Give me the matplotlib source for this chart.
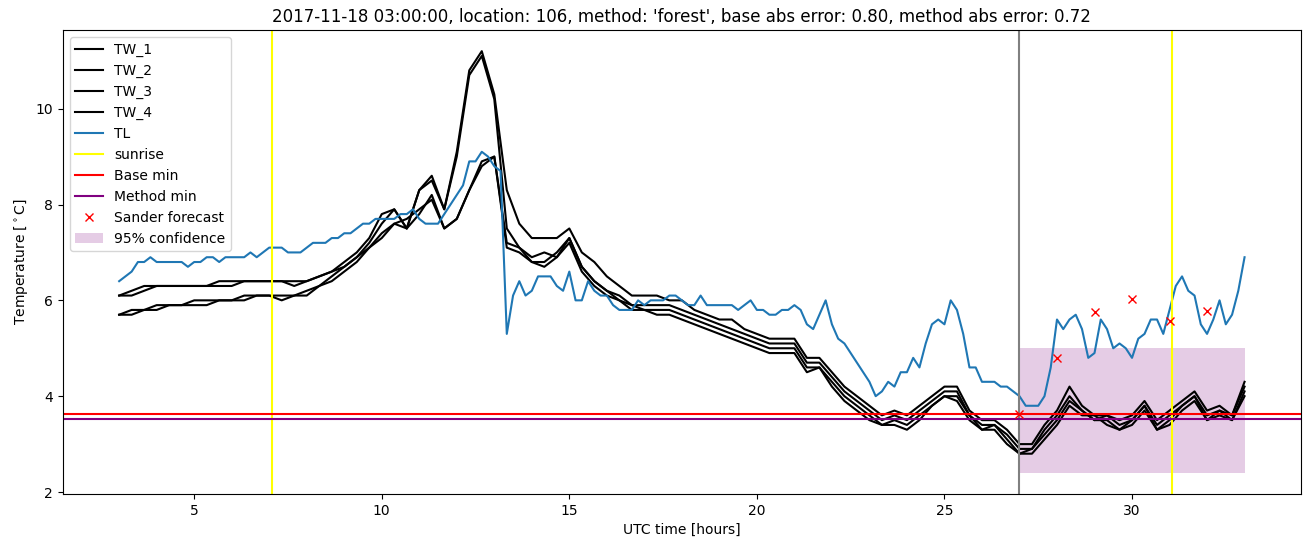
import numpy as np
import matplotlib
matplotlib.use("Agg")
import matplotlib.pyplot as plt

# time axes (UTC hours after 2017-11-18 00:00)
t_tl = np.arange(0, 181) / 6.0 + 3.0   # 10 min
t_tw = np.arange(0, 91) / 3.0 + 3.0    # 20 min

tl = [6.4, 6.5, 6.6, 6.8, 6.8, 6.9, 6.8, 6.8, 6.8, 6.8, 6.8, 6.7, 6.8, 6.8, 6.9, 6.9, 6.8, 6.9, 6.9, 6.9,
      6.9, 7.0, 6.9, 7.0, 7.1, 7.1, 7.1, 7.0, 7.0, 7.0, 7.1, 7.2, 7.2, 7.2, 7.3, 7.3, 7.4, 7.4, 7.5, 7.6,
      7.6, 7.7, 7.7, 7.7, 7.7, 7.8, 7.8, 7.9, 7.7, 7.6, 7.6, 7.6, 7.8, 8.0, 8.2, 8.4, 8.9, 8.9, 9.1, 9.0,
      8.8, 8.7, 5.3, 6.1, 6.4, 6.1, 6.2, 6.5, 6.5, 6.5, 6.3, 6.2, 6.6, 6.0, 6.0, 6.4, 6.2, 6.1, 6.1, 5.9,
      5.8, 5.8, 5.8, 6.0, 5.9, 6.0, 6.0, 6.0, 6.1, 6.1, 6.0, 5.9, 5.9, 6.1, 5.9, 5.9, 5.9, 5.9, 5.9, 5.8,
      5.9, 6.0, 5.8, 5.8, 5.7, 5.7, 5.8, 5.8, 5.9, 5.8, 5.5, 5.4, 5.7, 6.0, 5.5, 5.2, 5.1, 4.9, 4.7, 4.5,
      4.3, 4.0, 4.1, 4.3, 4.2, 4.5, 4.5, 4.8, 4.6, 5.1, 5.5, 5.6, 5.5, 6.0, 5.8, 5.3, 4.6, 4.6, 4.3, 4.3,
      4.3, 4.2, 4.2, 4.1, 4.0, 3.8, 3.8, 3.8, 4.0, 4.6, 5.6, 5.4, 5.6, 5.7, 5.4, 4.8, 4.9, 5.6, 5.4, 5.0,
      5.1, 5.0, 4.8, 5.2, 5.3, 5.6, 5.6, 5.3, 5.8, 6.3, 6.5, 6.2, 6.1, 5.5, 5.3, 5.6, 6.0, 5.5, 5.7, 6.2,
      6.9]

tw_1 = [6.1, 6.2, 6.3, 6.3, 6.3, 6.3, 6.3, 6.3, 6.4, 6.4, 6.4, 6.4, 6.4, 6.4, 6.4, 6.4, 6.5, 6.6, 6.8, 7.0,
        7.3, 7.8, 7.9, 7.5, 8.3, 8.6, 7.9, 9.1, 10.8, 11.2, 10.3, 8.3, 7.6, 7.3, 7.3, 7.3, 7.5, 7.0, 6.8, 6.5,
        6.3, 6.1, 6.1, 6.1, 6.0, 6.0, 5.8, 5.7, 5.6, 5.6, 5.4, 5.3, 5.2, 5.2, 5.2, 4.8, 4.8, 4.5, 4.2, 4.0,
        3.8, 3.6, 3.7, 3.6, 3.8, 4.0, 4.2, 4.2, 3.7, 3.5, 3.5, 3.3, 3.0, 3.0, 3.4, 3.7, 4.2, 3.8, 3.6, 3.6,
        3.5, 3.6, 3.9, 3.5, 3.7, 3.9, 4.1, 3.7, 3.8, 3.6, 4.3]
tw_2 = [6.1, 6.1, 6.2, 6.3, 6.3, 6.3, 6.3, 6.3, 6.3, 6.3, 6.4, 6.4, 6.4, 6.4, 6.3, 6.4, 6.5, 6.6, 6.7, 6.9,
        7.2, 7.6, 7.9, 7.5, 8.3, 8.5, 7.9, 9.0, 10.7, 11.1, 10.2, 7.5, 7.1, 6.9, 7.0, 6.9, 7.3, 6.7, 6.4, 6.2,
        6.1, 5.9, 5.9, 5.9, 5.9, 5.8, 5.7, 5.6, 5.5, 5.4, 5.3, 5.2, 5.1, 5.1, 5.1, 4.7, 4.7, 4.4, 4.1, 3.9,
        3.7, 3.5, 3.6, 3.5, 3.7, 3.9, 4.1, 4.1, 3.6, 3.4, 3.4, 3.2, 2.9, 2.9, 3.3, 3.6, 4.0, 3.7, 3.5, 3.6,
        3.4, 3.5, 3.8, 3.4, 3.6, 3.8, 4.0, 3.6, 3.7, 3.6, 4.2]
tw_3 = [5.7, 5.8, 5.8, 5.9, 5.9, 5.9, 6.0, 6.0, 6.0, 6.0, 6.1, 6.1, 6.1, 6.1, 6.1, 6.2, 6.3, 6.5, 6.7, 6.9,
        7.1, 7.4, 7.6, 7.7, 7.9, 8.1, 7.5, 7.7, 8.3, 8.9, 9.0, 7.2, 7.1, 6.8, 6.8, 7.0, 7.3, 6.7, 6.4, 6.2,
        6.0, 5.9, 5.8, 5.8, 5.8, 5.7, 5.6, 5.5, 5.4, 5.3, 5.2, 5.1, 5.0, 5.0, 5.0, 4.6, 4.6, 4.3, 4.0, 3.8,
        3.6, 3.4, 3.5, 3.4, 3.6, 3.8, 4.0, 4.0, 3.6, 3.3, 3.4, 3.1, 2.8, 2.9, 3.2, 3.5, 3.9, 3.7, 3.5, 3.5,
        3.3, 3.5, 3.8, 3.3, 3.5, 3.8, 4.0, 3.5, 3.7, 3.5, 4.1]
tw_4 = [5.7, 5.7, 5.8, 5.8, 5.9, 5.9, 5.9, 5.9, 6.0, 6.0, 6.0, 6.1, 6.1, 6.0, 6.1, 6.1, 6.3, 6.4, 6.6, 6.8,
        7.1, 7.3, 7.6, 7.5, 7.8, 8.2, 7.5, 7.7, 8.3, 8.8, 9.0, 7.1, 7.0, 6.8, 6.7, 6.9, 7.2, 6.6, 6.3, 6.1,
        6.0, 5.8, 5.8, 5.7, 5.7, 5.6, 5.5, 5.4, 5.3, 5.2, 5.1, 5.0, 4.9, 4.9, 4.9, 4.5, 4.6, 4.2, 3.9, 3.7,
        3.5, 3.4, 3.4, 3.3, 3.5, 3.8, 4.0, 3.9, 3.5, 3.3, 3.3, 3.0, 2.8, 2.8, 3.1, 3.4, 3.8, 3.6, 3.6, 3.4,
        3.3, 3.4, 3.7, 3.3, 3.4, 3.7, 3.9, 3.5, 3.6, 3.5, 4.0]

sunrise = [7.07, 31.07]
forecast_start = 27.0
base_min = 3.62
method_min = 3.53

sander_t = [27, 28, 29, 30, 31, 32]
sander = [3.62, 4.79, 5.76, 6.03, 5.57, 5.78]

conf_t = [27.0, 33.0]
conf_lo = [2.4, 2.4]
conf_hi = [5.0, 5.0]

fig, ax = plt.subplots(figsize=(13.1, 5.47), dpi=100)
fig.subplots_adjust(left=0.048, right=0.993, top=0.945, bottom=0.097)

for name, tw in [("TW_1", tw_1), ("TW_2", tw_2), ("TW_3", tw_3), ("TW_4", tw_4)]:
    ax.plot(t_tw, tw, color="black", label=name)
ax.plot(t_tl, tl, color="tab:blue", label="TL")

ax.axvline(sunrise[0], color="yellow", label="sunrise")
ax.axvline(sunrise[1], color="yellow")
ax.axvline(forecast_start, color="gray")
ax.axhline(base_min, color="red", label="Base min")
ax.axhline(method_min, color="purple", label="Method min")
ax.plot(sander_t, sander, "rx", label="Sander forecast")
ax.fill_between(conf_t, conf_lo, conf_hi, color="purple", alpha=0.2, linewidth=0,
                label="95% confidence")

ax.set_xlabel("UTC time [hours]")
ax.set_ylabel(r"Temperature [$^\circ$C]")
ax.set_title("2017-11-18 03:00:00, location: 106, method: 'forest', "
             "base abs error: 0.80, method abs error: 0.72")
ax.legend(loc="upper left")

plt.savefig("out.png")
